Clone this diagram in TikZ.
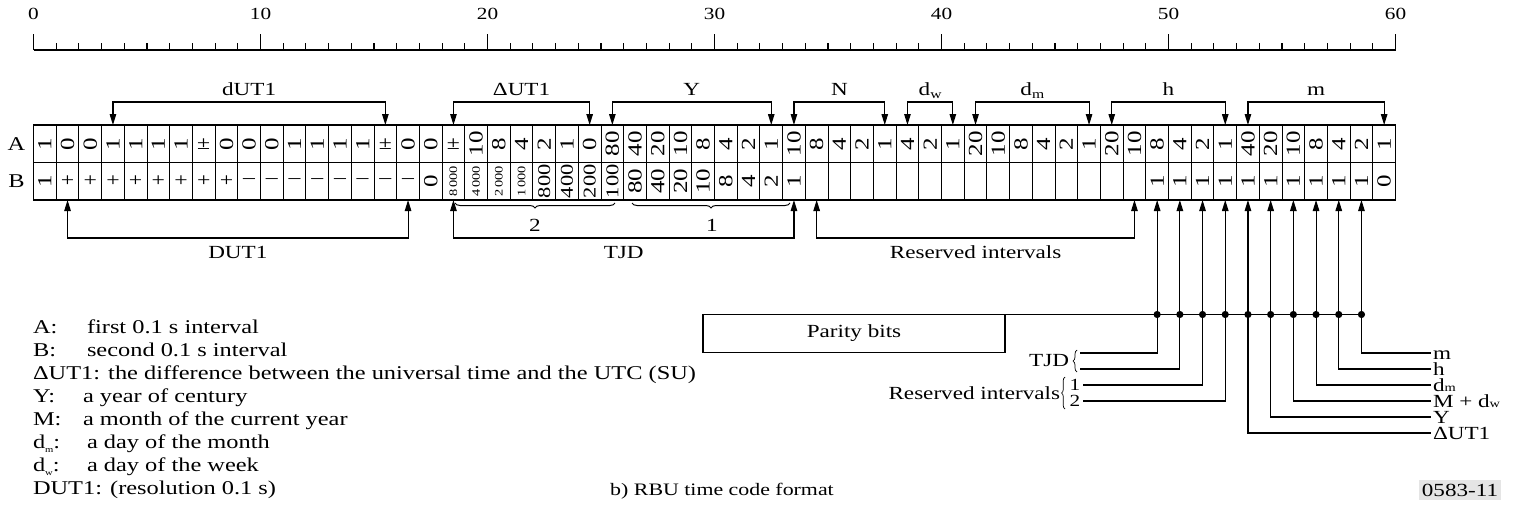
\documentclass[tikz,border=0pt]{standalone}
\usepackage{fontspec}
\setmainfont[FakeStretch=1.25]{Liberation Serif}
\usetikzlibrary{arrows.meta,decorations.pathreplacing,calc}
\newcommand\mysub[1]{\raisebox{-0.18em}{\fontsize{12.5}{12.5}\selectfont #1}}
\newcommand\myrsub[1]{\raisebox{-0.02em}{\fontsize{11.5}{11.5}\selectfont #1}}
\newcommand\mytinysub[1]{\raisebox{-0.2em}{\fontsize{8.5}{8.5}\selectfont #1}}
\begin{document}
\begin{tikzpicture}[x=1pt,y=-1pt,
  every node/.style={inner sep=0pt,outer sep=0pt},
  lab/.style={font=\fontsize{18.5}{22}\selectfont},
  rlab/.style={font=\fontsize{18.5}{22}\selectfont,anchor=base west},
  num/.style={font=\fontsize{17}{20}\selectfont,anchor=base},
  leg/.style={font=\fontsize{19.5}{23}\selectfont,anchor=base west},
  dig/.style={font=\fontsize{20}{24}\selectfont,rotate=90},
  sdig/.style={font=\fontsize{18}{22}\selectfont,rotate=90},
  tdig/.style={font=\fontsize{11.5}{13}\selectfont,rotate=90},
  sym/.style={font=\fontsize{19}{22}\selectfont},
  conn/.style={line width=1.1pt},
  arr/.style={conn,-{Triangle[length=11pt,width=6.5pt]}},
  darr/.style={conn,{Triangle[length=11pt,width=6.5pt]}-{Triangle[length=11pt,width=6.5pt]}},
  brc/.style={decorate,line width=1pt},
]
\useasboundingbox (0,0) rectangle (1519,509);

% ---------- ruler ----------
\draw[line width=2.6pt] (33.5,50) coordinate (r0) -- (1395.5,50) coordinate (r60);
\foreach \i in {0,...,60}{
  \pgfmathsetmacro{\xx}{33.5+\i*22.7}
  \pgfmathtruncatemacro{\mm}{mod(\i,10)}
  \ifnum\mm=0
    \draw[line width=1.1pt] (\xx,50) -- (\xx,34);
    \node[num] (n\i) at (\xx,19) {\i};
  \else
    \draw[line width=1.1pt] (\xx,50) -- (\xx,43);
  \fi
}

% ---------- grid ----------
\foreach \i in {1,...,59}{
  \pgfmathsetmacro{\xx}{33.5+\i*22.7}
  \draw[line width=1pt] (\xx,125) -- (\xx,200);
}
\draw[line width=1pt] (33.5,162.5) -- (1395.5,162.5);
\draw[line width=1.5pt] (33.5,125) rectangle (1395.5,200);
\node[font=\fontsize{19.5}{23}\selectfont] (rowA) at (16.5,144) {A};
\node[font=\fontsize{19.5}{23}\selectfont] (rowB) at (16.5,181.5) {B};

\foreach \i in {0,...,59}{
  \pgfmathsetmacro{\xx}{33.5+(\i+0.5)*22.7}
  \coordinate (t\i) at (\xx,125);
  \coordinate (b\i) at (\xx,200);
  \coordinate (ca\i) at (\xx,143.75);
  \coordinate (cb\i) at (\xx,181.25);
}

% row A
\foreach \i/\t in {0/1,1/0,2/0,3/1,4/1,5/1,6/1,8/0,9/0,10/0,11/1,12/1,13/1,14/1,16/0,17/0,
  19/10,20/8,21/4,22/2,23/1,24/0,25/80,26/40,27/20,28/10,29/8,30/4,31/2,32/1,
  33/10,34/8,35/4,36/2,37/1,38/4,39/2,40/1,41/20,42/10,43/8,44/4,45/2,46/1,
  47/20,48/10,49/8,50/4,51/2,52/1,53/40,54/20,55/10,56/8,57/4,58/2,59/1}
  \node[dig] (a\i) at (ca\i) {\t};
\foreach \i in {7,15,18}
  \node[sym] (a\i) at (ca\i) {±};

% row B
\foreach \i/\t in {0/1,17/0,26/80,27/40,28/20,29/10,30/8,31/4,32/2,33/1,
  49/1,50/1,51/1,52/1,53/1,54/1,55/1,56/1,57/1,58/1,59/0}
  \node[dig] (bb\i) at (cb\i) {\t};
\foreach \i/\t in {22/800,23/400,24/200,25/100}
  \node[sdig] (bb\i) at (cb\i) {\t};
\foreach \i/\t in {18/8\,000,19/4\,000,20/2\,000,21/1\,000}
  \node[tdig] (bb\i) at (cb\i) {\t};
\foreach \i in {1,...,8}
  \node[sym] (bb\i) at (cb\i) {+};
\foreach \i in {9,...,16}
  \node[sym] (bb\i) at (cb\i) {–};

% ---------- top brackets ----------
\foreach \a/\b/\t [count=\k] in {3/15/dUT1, 18/24/ΔUT1, 25/32/Y, 33/37/N,
    38/40/{d\mysub{w}}, 41/46/{d\mysub{m}}, 47/52/h, 53/59/m}{
  \draw[darr] (t\a) -- ++(0,-23) -| (t\b);
  \node[lab,anchor=base] (top\k) at ($(t\a)!0.5!(t\b)+(0,-30)$) {\t};
}

% ---------- bottom brackets ----------
\foreach \a/\b/\t [count=\k] in {1/16/DUT1, 18/33/TJD, 34/48/Reserved intervals}{
  \draw[darr] (b\a) -- ++(0,38) -| (b\b);
  \node[lab,anchor=base] (bot\k) at ($(b\a)!0.5!(b\b)+(0,58)$) {\t};
}
\draw[brc,decoration={brace,mirror,amplitude=5pt}] (455,203) coordinate (br2a) -- (615,203) coordinate (br2b);
\draw[brc,decoration={brace,mirror,amplitude=5pt}] (632,203) coordinate (br1a) -- (790,203) coordinate (br1b);
\node[lab,anchor=base] (lbl2) at (535,231) {2};
\node[lab,anchor=base] (lbl1) at (712,231) {1};

% ---------- parity ----------
\node[lab,draw,line width=1.1pt,minimum width=302pt,minimum height=38pt] (par) at (854,333.5) {Parity bits};
\foreach \i in {49,...,58}{
  \coordinate (p\i) at ($(b\i)+(0,114.5)$);
  \draw[arr] (p\i) -- (b\i);
}
\draw[conn] (par.north east) -- (p58);
\foreach \i in {49,...,58}
  \fill (p\i) circle (3.6pt);

% left connectors
\coordinate (L1) at (1080,353);
\coordinate (L2) at (1080,369);
\coordinate (L3) at (1083,385);
\coordinate (L4) at (1083,401);
\draw[conn] (p49) |- (L1);
\draw[conn] (p50) |- (L2);
\draw[conn] (p51) |- (L3);
\draw[conn] (p52) |- (L4);
\draw[decorate,decoration={brace,amplitude=4pt},line width=0.7pt] (1077,372) -- (1077,350);
\node[lab,anchor=east] (tjd) at (1069,361) {TJD};
\draw[decorate,decoration={brace,amplitude=3.5pt},line width=0.7pt] (1065,409) -- (1065,377);
\node[lab,anchor=east] (resv) at (1060,393) {Reserved intervals};
\node[font=\fontsize{17}{20}\selectfont] (res1) at (1075,385) {1};
\node[font=\fontsize{17}{20}\selectfont] (res2) at (1075,401) {2};

% right connectors
\foreach \i/\yy/\t [count=\k] in {58/353/m, 57/369/h, 56/385/{d\myrsub{m}}, 55/401/{M + d\myrsub{w}}, 54/417/Y, 53/433/ΔUT1}{
  \coordinate (R\k) at (1431,\yy);
  \draw[conn] (p\i) |- (R\k);
  \node[rlab] (rl\k) at (1433,\yy+6.5) {\t};
}

% ---------- legend ----------
\node[leg] (lg1) at (33,333.5) {A:};
\node[leg] (lg1t) at (87,333.5) {first 0.1 s interval};
\node[leg] (lg2) at (33,356.5) {B:};
\node[leg] (lg2t) at (87,356.5) {second 0.1 s interval};
\node[leg] (lg3) at (33,379.5) {ΔUT1: the difference between the universal time and the UTC (SU)};
\node[leg] (lg4) at (33,402.5) {Y:};
\node[leg] (lg4t) at (83,402.5) {a year of century};
\node[leg] (lg5) at (33,425.5) {M:};
\node[leg] (lg5t) at (83,425.5) {a month of the current year};
\node[leg] (lg6) at (33,448.5) {d\mytinysub{m}:};
\node[leg] (lg6t) at (87,448.5) {a day of the month};
\node[leg] (lg7) at (33,471.5) {d\mytinysub{w}:};
\node[leg] (lg7t) at (87,471.5) {a day of the week};
\node[leg] (lg8) at (33,494.5) {DUT1: (resolution 0.1 s)};

\node[font=\fontsize{17.5}{21}\selectfont,anchor=base] (cap) at (722,495) {b) RBU time code format};
\node[font=\fontsize{18.5}{21}\selectfont,fill=black!10,inner xsep=3pt,inner ysep=4pt] (code) at (1460,490) {0583-11};
\end{tikzpicture}
\end{document}
